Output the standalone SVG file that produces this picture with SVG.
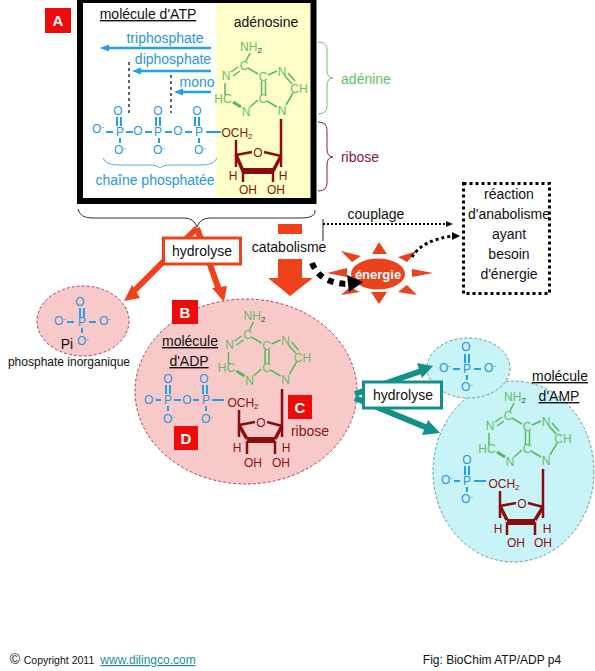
<svg xmlns="http://www.w3.org/2000/svg" width="595" height="671" viewBox="0 0 595 671">
<style>
text{font-family:"Liberation Sans",Arial,sans-serif;font-size:14px;fill:#111;text-anchor:middle}
.c{font-size:12px}
.bl{fill:#2a96dc}.bt{stroke:#22a0e8;stroke-width:2;fill:none}
.gr{fill:#62bf62}.gt{stroke:#55bb55;stroke-width:1.5;fill:none}.gb{stroke:#55bb55;stroke-width:3;fill:none}
.rd{fill:#8a1212}.rt{stroke:#8b0c0c;stroke-width:2.5;fill:none}.rb{stroke:#8b0c0c;stroke-width:3.5;fill:none}
.u{text-decoration:underline}
.badge{fill:#ee0b0b}.bt2{fill:#fff;font-weight:bold;font-size:15px}
.s{font-size:8px}
.pk{fill:#f8c9c9;stroke:#b03a5a;stroke-width:1;stroke-dasharray:3 2}
.cy{fill:#c8f3f7;stroke:#5f9a9c;stroke-width:1;stroke-dasharray:3 2}
.or{stroke:#f0421a;fill:none}.orf{fill:#f0421a}
.te{stroke:#13908a;fill:none}.tef{fill:#13908a}
.ar{fill:#e8431c}
</style>
<defs>
<marker id="mb" markerUnits="userSpaceOnUse" markerWidth="10" markerHeight="8" refX="1" refY="4" orient="auto"><path d="M0 0.500L9 4L0 7.500Z" fill="#22a0e8"/></marker>
</defs>
<g id="atp-frame">
<rect x="216" y="3" width="95" height="195" fill="#ffffcc"/>
<rect x="80" y="0" width="233.500" height="201" fill="none" stroke="#000" stroke-width="6"/>
<text class="u" x="148" y="19">molécule d'ATP</text>
<text x="266" y="27">adénosine</text>
</g>
<g id="badge-a"><rect class="badge" x="45" y="8" width="26" height="25"/><text class="bt2" x="58" y="26">A</text></g>
<g id="atp-phosphates">
<text class="bl" x="165" y="43">triphosphate</text><text class="bl" x="173" y="64">diphosphate</text><text class="bl" x="197" y="87">mono</text>
<g class="c">
<text class="c bl" x="98" y="133">O<tspan class="s" dy="-4">-</tspan></text>
<text class="c bl" x="120" y="136">P</text><text class="c bl" x="138" y="135">O</text><text class="c bl" x="158" y="136">P</text><text class="c bl" x="178" y="135">O</text><text class="c bl" x="199" y="136">P</text>
<text class="c bl" x="118" y="115">O</text><text class="c bl" x="158" y="115">O</text><text class="c bl" x="197" y="115">O</text>
<text class="c bl" x="120" y="154">O<tspan class="s" dy="-4">-</tspan></text><text class="c bl" x="159" y="154">O<tspan class="s" dy="-4">-</tspan></text><text class="c bl" x="200" y="154">O<tspan class="s" dy="-4">-</tspan></text>
</g>
<path class="bt" d="M106 132h7M126 132h7M145 132h7M165 132h7M185 132h7M206 132h15M117 117v9M121 117v9M156 117v9M160 117v9M195 117v9M199 117v9M120 138v5M159 138v5M199 138v5"/>
<path d="M103 158q3 7 15 7h30q10 0 12 3q2-3 12-3h30q12 0 15-7" fill="none" stroke="#5aa8e0" stroke-width="1"/>
<text class="bl" x="155" y="185">chaîne phosphatée</text>
</g>
<g id="atp-adenine">
<text class="c gr" x="251" y="51">NH<tspan class="s" dy="2" fill="#333">2</tspan></text><text class="c gr" x="244" y="70">C</text><text class="c gr" x="226" y="80">N</text><text class="c gr" x="263" y="81">C</text><text class="c gr" x="282" y="76">N</text><text class="c gr" x="299" y="93">CH</text><text class="c gr" x="263" y="103">C</text><text class="c gr" x="282" y="115">N</text><text class="c gr" x="246" y="116">N</text><text class="c gr" x="223" y="103">HC</text>
<path class="gt" d="M250 53l-4 8M238 67l-7 5M240 71l-7 5M248 68l10 6M268 75l9-4M288 73l7 8M285 76l7 8M293 93l-7 12M277 107l-10-6M258 100l-8 7M225 83v12M261.500 81v14M265.500 81v14"/>
<path class="gb" d="M241 107l-8-5"/>
</g>
<g id="atp-ribose">
<text class="c rd" x="237" y="137">OCH<tspan class="s" dy="2">2</tspan></text><text class="c rd" x="258" y="157">O</text><text class="c rd" x="233" y="180">H</text><text class="c rd" x="283" y="180">H</text><text class="c rd" x="248" y="194">OH</text><text class="c rd" x="276" y="194">OH</text>
<path class="rt" d="M281 119V167M236 140V167M236 155l16-3M264 152l17 4M243 171V182M273 171V182"/>
<path class="rb" d="M236 155l7 16M273 171l8-15"/>
<path d="M243 168h30v6h-30z" fill="#8b0c0c"/>
</g>
<g id="brace-adenine"><path d="M318 42q9 0 9 8v20q0 8 6 8q-6 0-6 8v20q0 8-9 8" fill="none" stroke="#77c077" stroke-width="1"/><text class="gr" x="366" y="84">adénine</text></g>
<g id="brace-ribose"><path d="M318 122q9 0 9 8v19q0 8 6 8q-6 0-6 8v18q0 8-9 8" fill="none" stroke="#8b1a3c" stroke-width="1"/><text x="360" y="162" style="fill:#8b1a3c">ribose</text></g>
<g id="brace-atp"><path d="M78 209q2 9 14 9h92q10 0 13 9q3-9 13-9h92q14 0 13-8" fill="none" stroke="#333" stroke-width="1"/></g>
<g id="pi"><ellipse class="pk" cx="83" cy="321" rx="46" ry="35"/>
<text class="c bl" x="80" y="306">O</text><text class="c bl" x="82" y="326">P</text><text class="c bl" x="60" y="325">O<tspan class="s" dy="-4">-</tspan></text><text class="c bl" x="105" y="325">O<tspan class="s" dy="-4">-</tspan></text><text class="c bl" x="83" y="345">O<tspan class="s" dy="-4">-</tspan></text>
<path class="bt" d="M67 322h7M89 322h7M80 308v9M84 308v9M82 328v5"/>
<text x="67" y="349">Pi</text>
<text class="c" x="69" y="366">phosphate inorganique</text></g>
<g id="adp"><ellipse class="pk" cx="246" cy="391.500" rx="111" ry="92.500"/>
<text class="u" x="190" y="346">molécule</text><text class="u" x="189" y="366">d'ADP</text>
<g transform="translate(3.500 269)">
<text class="c gr" x="251" y="51">NH<tspan class="s" dy="2" fill="#333">2</tspan></text><text class="c gr" x="244" y="70">C</text><text class="c gr" x="226" y="80">N</text><text class="c gr" x="263" y="81">C</text><text class="c gr" x="282" y="76">N</text><text class="c gr" x="299" y="93">CH</text><text class="c gr" x="263" y="103">C</text><text class="c gr" x="282" y="115">N</text><text class="c gr" x="246" y="116">N</text><text class="c gr" x="223" y="103">HC</text>
<path class="gt" d="M250 53l-4 8M238 67l-7 5M240 71l-7 5M248 68l10 6M268 75l9-4M288 73l7 8M285 76l7 8M293 93l-7 12M277 107l-10-6M258 100l-8 7M225 83v12M261.500 81v14M265.500 81v14"/>
<path class="gb" d="M241 107l-8-5"/>
</g>
<g transform="translate(3 270)">
<text class="c rd" x="240" y="137">OCH<tspan class="s" dy="2">2</tspan></text><text class="c rd" x="258" y="157">O</text><text class="c rd" x="234" y="182">H</text><text class="c rd" x="283" y="182">H</text><text class="c rd" x="250" y="197">OH</text><text class="c rd" x="278" y="197">OH</text>
<path class="rt" d="M279 119V167M236 140V167M236 155l16-3M264 152l15 4M244 171V184M272 171V184"/>
<path class="rb" d="M236 155l8 14M272 169l7-13"/>
<path d="M244 167h28v6h-28z" fill="#8b0c0c"/>
</g>
<text class="c bl" x="150" y="404">O<tspan class="s" dy="-4">-</tspan></text><text class="c bl" x="168" y="404">P</text><text class="c bl" x="187" y="404">O</text><text class="c bl" x="206" y="404">P</text>
<text class="c bl" x="168" y="383">O</text><text class="c bl" x="204" y="383">O</text><text class="c bl" x="169" y="423">O<tspan class="s" dy="-4">-</tspan></text><text class="c bl" x="207" y="423">O<tspan class="s" dy="-4">-</tspan></text>
<path class="bt" d="M156 400h5M174 400h7M193 400h6M212 400h12M166 385v9M170 385v9M203 385v9M207 385v9M168 406v5M206 406v5"/>
<text x="310" y="436" style="fill:#8a1212">ribose</text>
</g>
<g id="badge-b"><rect class="badge" x="172" y="300" width="26" height="24"/><text class="bt2" x="185" y="318">B</text></g>
<g id="badge-c"><rect class="badge" x="288" y="395" width="24" height="24"/><text class="bt2" x="300" y="413">C</text></g>
<g id="badge-d"><rect class="badge" x="174" y="426" width="24" height="24"/><text class="bt2" x="186" y="444">D</text></g>
<g id="amp"><ellipse class="cy" cx="513.500" cy="471.500" rx="80.500" ry="90.500"/>
<text class="u" x="560" y="381">molécule</text><text class="u" x="559" y="401">d'AMP</text>
<g transform="translate(264 350)">
<text class="c gr" x="251" y="51">NH<tspan class="s" dy="2" fill="#333">2</tspan></text><text class="c gr" x="244" y="70">C</text><text class="c gr" x="226" y="80">N</text><text class="c gr" x="263" y="81">C</text><text class="c gr" x="282" y="76">N</text><text class="c gr" x="299" y="93">CH</text><text class="c gr" x="263" y="103">C</text><text class="c gr" x="282" y="115">N</text><text class="c gr" x="246" y="116">N</text><text class="c gr" x="223" y="103">HC</text>
<path class="gt" d="M250 53l-4 8M238 67l-7 5M240 71l-7 5M248 68l10 6M268 75l9-4M288 73l7 8M285 76l7 8M293 93l-7 12M277 107l-10-6M258 100l-8 7M225 83v12M261.500 81v14M265.500 81v14"/>
<path class="gb" d="M241 107l-8-5"/>
</g>
<g transform="translate(265 351)">
<text class="c rd" x="239" y="137">OCH<tspan class="s" dy="2">2</tspan></text><text class="c rd" x="257" y="157">O</text><text class="c rd" x="233" y="182">H</text><text class="c rd" x="282" y="182">H</text><text class="c rd" x="251" y="196">OH</text><text class="c rd" x="278" y="196">OH</text>
<path class="rt" d="M278 118V167M235 140V167M235 155l16-3M263 152l15 4M242 171V184M270 171V184"/>
<path class="rb" d="M235 155l7 14M270 169l8-13"/>
<path d="M242 168h28v6h-28z" fill="#8b0c0c"/>
</g>
<text class="c bl" x="447" y="484">O<tspan class="s" dy="-4">-</tspan></text><text class="c bl" x="467" y="485">P</text><text class="c bl" x="467" y="464">O</text><text class="c bl" x="467" y="503">O<tspan class="s" dy="-4">-</tspan></text>
<path class="bt" d="M454 481h6M474 481h12M465 466v9M469 466v9M467 487v5"/>
</g>
<g id="phosphate-amp"><ellipse class="cy" cx="468.500" cy="368" rx="41.500" ry="30"/>
<text class="c bl" x="466" y="351">O</text><text class="c bl" x="467" y="373">P</text><text class="c bl" x="445" y="372">O<tspan class="s" dy="-4">-</tspan></text><text class="c bl" x="490" y="372">O<tspan class="s" dy="-4">-</tspan></text><text class="c bl" x="467" y="391">O<tspan class="s" dy="-4">-</tspan></text>
<path class="bt" d="M453 369h7M474 369h7M465 354v9M469 354v9M467 375v5"/></g>
<g id="energie">
<path class="ar" d="M379 242l8 12h-15zM379 304l-8-12h16zM327 273l20-5v9zM433 273l-21-4v8zM417 251l-19 6 9 5zM341 251l20 5-9 6zM341 295l9-8 10 5zM417 295l-19-3 9-7z"/>
<ellipse cx="378" cy="274" rx="28" ry="16.500" fill="#e8431c" stroke="#fff" stroke-width="2"/>
<text x="378" y="279" style="fill:#fff;font-weight:bold;font-size:13px">énergie</text>
</g>
<g id="connectors">
<path class="or" stroke-width="6" d="M197 228L132 293M197 228L219 290"/>
<path class="orf" d="M124 301l8-16 8 13zM224 302l-12-14 15-2z"/>
<path class="orf" d="M278 259h24v19h11l-23 18-22-18h10z"/>
<path class="orf" d="M278 224h24v10h-24z"/>
<path class="te" stroke-width="6" d="M355 394L424 370M355 398L430 429"/>
<path class="tef" d="M433 366l-16-3 5 15zM440 433l-12-13-6 15z"/>
<g fill="none" stroke="#22a0e8" stroke-width="2.500">
<path marker-end="url(#mb)" d="M211 48H108"/><path marker-end="url(#mb)" d="M211 71H140"/><path marker-end="url(#mb)" d="M211 92H182"/>
</g>
<path d="M129 62V115M171 75V113" stroke="#000" stroke-width="1.200" stroke-dasharray="3 3" fill="none"/>
<path d="M323 219V241" stroke="#222" stroke-width="1" fill="none"/>
<path d="M323 224H447" stroke="#111" stroke-width="2" stroke-dasharray="2 2" fill="none"/>
<path d="M453 224l-7-3v6z" fill="#111"/>
<path d="M312 263Q320 284 349 284" stroke="#000" stroke-width="6" stroke-dasharray="6 6" fill="none"/>
<path d="M363 282l-16-7 2 17z" fill="#000"/>
<path d="M412 257Q422 240 453 236" stroke="#000" stroke-width="3" stroke-dasharray="3 3" fill="none"/>
<path d="M460 236l-8-4v8z" fill="#000"/>
</g>
<g id="hydrolyse-1"><rect x="163.500" y="238" width="77" height="26" fill="#fff" stroke="#f0421a" stroke-width="3"/><text x="202" y="256">hydrolyse</text></g>
<g id="hydrolyse-2"><rect x="363.500" y="382" width="78" height="26" fill="#fff" stroke="#13908a" stroke-width="3"/><text x="403" y="400">hydrolyse</text></g>
<g id="labels"><text x="376" y="219">couplage</text><text x="289" y="252">catabolisme</text></g>
<g id="reaction"><rect x="463.500" y="183.500" width="86" height="110" fill="#fff" stroke="#000" stroke-width="3" stroke-dasharray="3 3"/>
<text x="509" y="199">réaction</text><text x="509" y="219">d'anabolisme</text><text x="509" y="239">ayant</text><text x="509" y="259">besoin</text><text x="509" y="279">d'énergie</text></g>
<g id="footer">
<text x="15" y="664" style="font-size:14px">©</text><text x="59" y="664" style="font-size:10.500px">Copyright 2011</text>
<text class="u" x="148" y="664" style="font-size:12px;fill:#1a8f9a">www.dilingco.com</text>
<text x="492" y="664" style="font-size:12px">Fig: BioChim ATP/ADP p4</text>
</g>
</svg>
